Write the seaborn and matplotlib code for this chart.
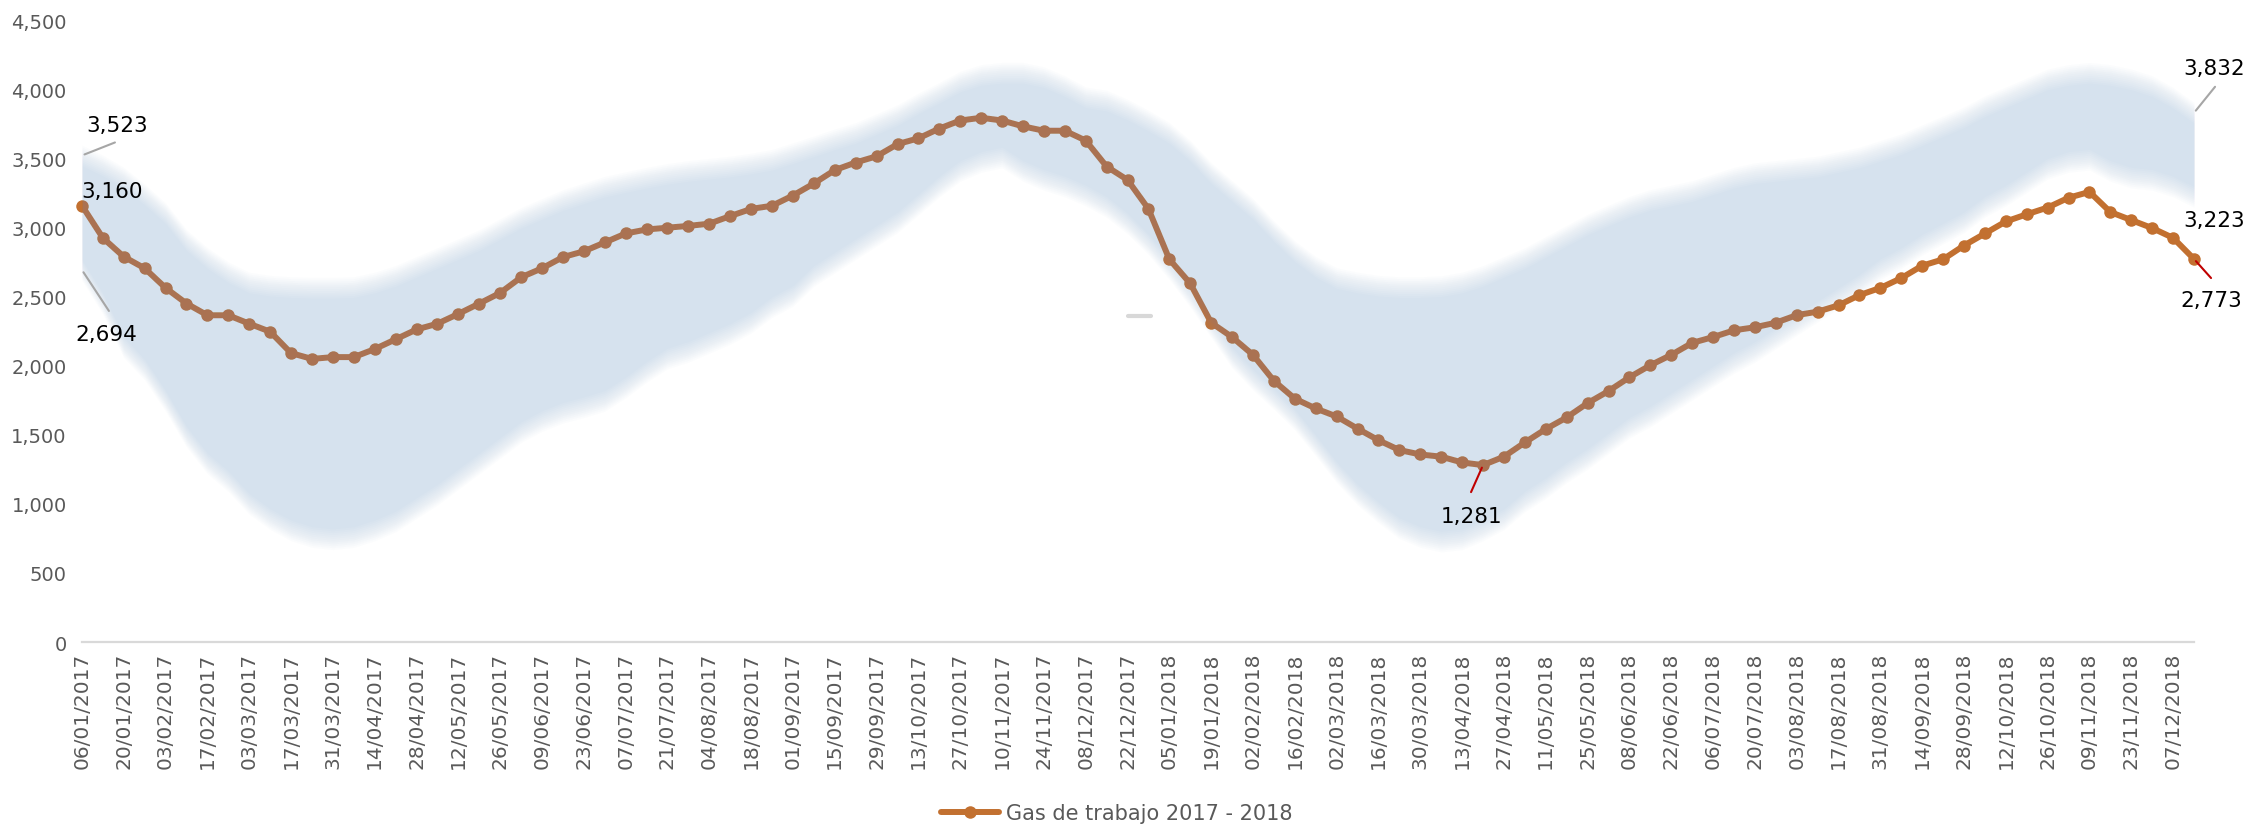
import numpy as np
import pandas as pd
import matplotlib
matplotlib.use("Agg")
import matplotlib.pyplot as plt
import seaborn as sns
from matplotlib.ticker import FuncFormatter, FixedLocator

# Weekly working gas (Friday readings), 06/01/2017 - 14/12/2018
start_date = "2017-01-06"
n_weeks = 102

gas_trabajo = [
    3160, 2926, 2790, 2706, 2564, 2451, 2366, 2366, 2305, 2247,
    2092, 2050, 2063, 2063, 2121, 2192, 2263, 2305, 2376, 2451,
    2528, 2641, 2706, 2787, 2829, 2893, 2958, 2987, 3000, 3013,
    3029, 3084, 3136, 3159, 3233, 3320, 3417, 3472, 3517, 3605,
    3647, 3718, 3776, 3796, 3776, 3734, 3702, 3702, 3631, 3443,
    3346, 3136, 2771, 2596, 2312, 2208, 2079, 1891, 1762, 1691,
    1633, 1545, 1461, 1390, 1358, 1342, 1300, 1281, 1342, 1445,
    1542, 1626, 1730, 1817, 1917, 2004, 2079, 2166, 2208, 2257,
    2279, 2312, 2367, 2392, 2438, 2512, 2564, 2635, 2725, 2771,
    2871, 2958, 3045, 3097, 3146, 3217, 3259, 3113, 3055, 2997,
    2926, 2773,
]

# Historical range (max / min) for the same weeks
rango_max = [
    3523, 3450, 3362, 3240, 3104, 2910, 2780, 2677, 2603, 2580,
    2570, 2565, 2565, 2570, 2603, 2651, 2716, 2780, 2845, 2910,
    2990, 3071, 3136, 3200, 3249, 3297, 3330, 3362, 3390, 3411,
    3427, 3443, 3465, 3492, 3540, 3589, 3640, 3686, 3750, 3815,
    3900, 3977, 4058, 4106, 4122, 4122, 4090, 4025, 3944, 3920,
    3855, 3775, 3686, 3556, 3395, 3265, 3136, 2974, 2829, 2716,
    2635, 2603, 2580, 2570, 2570, 2577, 2603, 2651, 2716, 2780,
    2861, 2942, 3023, 3088, 3152, 3201, 3233, 3265, 3314, 3362,
    3395, 3411, 3427, 3443, 3476, 3508, 3556, 3605, 3670, 3734,
    3799, 3880, 3944, 4009, 4074, 4106, 4122, 4106, 4074, 4025,
    3940, 3832,
]
rango_min = [
    2694, 2450, 2134, 1972, 1746, 1487, 1293, 1164, 1000, 890,
    808, 760, 744, 760, 808, 873, 970, 1067, 1180, 1293,
    1406, 1520, 1600, 1660, 1700, 1746, 1843, 1956, 2053, 2101,
    2166, 2231, 2312, 2425, 2506, 2651, 2748, 2845, 2942, 3039,
    3168, 3298, 3411, 3476, 3508, 3411, 3346, 3298, 3233, 3150,
    3030, 2880, 2700, 2500, 2280, 2060, 1900, 1760, 1610, 1423,
    1229, 1067, 938, 824, 760, 727, 744, 808, 889, 1018,
    1115, 1229, 1326, 1439, 1552, 1633, 1730, 1827, 1924, 2021,
    2101, 2198, 2296, 2393, 2490, 2587, 2700, 2780, 2877, 2958,
    3039, 3152, 3233, 3330, 3427, 3476, 3492, 3411, 3362, 3346,
    3298, 3223,
]

y_ticks = [0, 500, 1000, 1500, 2000, 2500, 3000, 3500, 4000, 4500]
serie_label = "Gas de trabajo 2017 - 2018"

# short leftover leader mark near the end of 2017
marca_x = [50.0, 51.1]
marca_y = [2360, 2360]

fechas = pd.date_range(start_date, periods=n_weeks, freq="7D")
df = pd.DataFrame({
    "pos": np.arange(n_weeks),
    "gas": gas_trabajo,
    "max": rango_max,
    "min": rango_min,
})

sns.set_theme(style="white")
plt.rcParams["font.family"] = ["DejaVu Sans"]

ORANGE = "#C27030"
BAND = "#6E9CCB"
GREY_TXT = "#595959"

fig = plt.figure(figsize=(22.51, 8.28), dpi=100)
ax = fig.add_axes([0.0364, 0.2234, 0.9383, 0.7506])

sns.lineplot(data=df, x="pos", y="gas", ax=ax, color=ORANGE, linewidth=4.3,
             marker="o", markersize=9, markeredgewidth=0, label=serie_label,
             zorder=2, clip_on=False)

# translucent range band with soft upper/lower edges, drawn over the line
offsets = np.linspace(-75, 75, 12)
n_layers = len(offsets)
layer_alpha = 1 - (1 - 0.25) ** (1.0 / n_layers)
lo = df["min"].to_numpy(float)
hi = df["max"].to_numpy(float)
for d in offsets:
    ax.fill_between(df["pos"], lo + d, hi - d, color=BAND, alpha=layer_alpha,
                    linewidth=0, zorder=3)

ax.plot(marca_x, marca_y, color="#BFBFBF", linewidth=3, alpha=0.6,
        solid_capstyle="round", zorder=3)

ax.set_xlim(0, n_weeks - 1)
ax.set_ylim(y_ticks[0], y_ticks[-1])

tick_pos = list(range(0, n_weeks, 2))
ax.xaxis.set_major_locator(FixedLocator(tick_pos))
ax.set_xticklabels([fechas[i].strftime("%d/%m/%Y") for i in tick_pos],
                   rotation=90, fontsize=14.5, color=GREY_TXT)
ax.set_yticks(y_ticks)
ax.yaxis.set_major_formatter(FuncFormatter(lambda v, p: f"{int(v):,}"))
ax.tick_params(axis="y", labelsize=14, labelcolor=GREY_TXT, length=0, pad=11)
ax.tick_params(axis="x", length=0, pad=7)
ax.set_xlabel("")
ax.set_ylabel("")

for s in ["left", "right", "top"]:
    ax.spines[s].set_visible(False)
ax.spines["bottom"].set_color("#D9D9D9")
ax.spines["bottom"].set_linewidth(1.6)
ax.spines["bottom"].set_zorder(1)
ax.grid(False)

PX = 0.72  # points per pixel at 100 dpi


def leader(x, y, p0, p1, color):
    ax.annotate("", xy=(x, y), xycoords="data",
                xytext=(p1[0] * PX, p1[1] * PX), textcoords="offset points",
                arrowprops=dict(arrowstyle="-", color=color, lw=1.5,
                                shrinkA=0, shrinkB=p0),
                annotation_clip=False, zorder=5)


def label(x, y, val, dx, dy):
    ax.annotate(f"{val:,}", xy=(x, y), xytext=(dx * PX, dy * PX),
                textcoords="offset points", ha="center", va="center",
                fontsize=15.5, color="black", annotation_clip=False, zorder=6)


last = n_weeks - 1
i_min = int(np.argmin(gas_trabajo))
GREY_LINE = "#A6A6A6"
RED_LINE = "#C00000"

leader(0, rango_max[0], 2, (33, 13), GREY_LINE)
label(0, rango_max[0], rango_max[0], 35, 30)
label(0, gas_trabajo[0], gas_trabajo[0], 30, 15)
leader(0, rango_min[0], 2, (27, -41), GREY_LINE)
label(0, rango_min[0], rango_min[0], 24, -64)
leader(i_min, gas_trabajo[i_min], 2, (-12, -27), RED_LINE)
label(i_min, gas_trabajo[i_min], gas_trabajo[i_min], -12, -51)
leader(last, rango_max[last], 2, (21, 26), GREY_LINE)
label(last, rango_max[last], rango_max[last], 20, 45)
label(last, rango_min[last], rango_min[last], 20, -23)
leader(last, gas_trabajo[last], 2, (17, -19), RED_LINE)
label(last, gas_trabajo[last], gas_trabajo[last], 17, -41)

leg = ax.legend(loc="lower center", bbox_to_anchor=(0.496, -0.005),
                bbox_transform=fig.transFigure, frameon=False,
                handlelength=2.8, handletextpad=0.3, borderaxespad=0.0,
                prop={"family": ["Liberation Sans Narrow", "DejaVu Sans"],
                      "size": 15})
for t in leg.get_texts():
    t.set_color(GREY_TXT)

fig.savefig("out.png", dpi=100)
